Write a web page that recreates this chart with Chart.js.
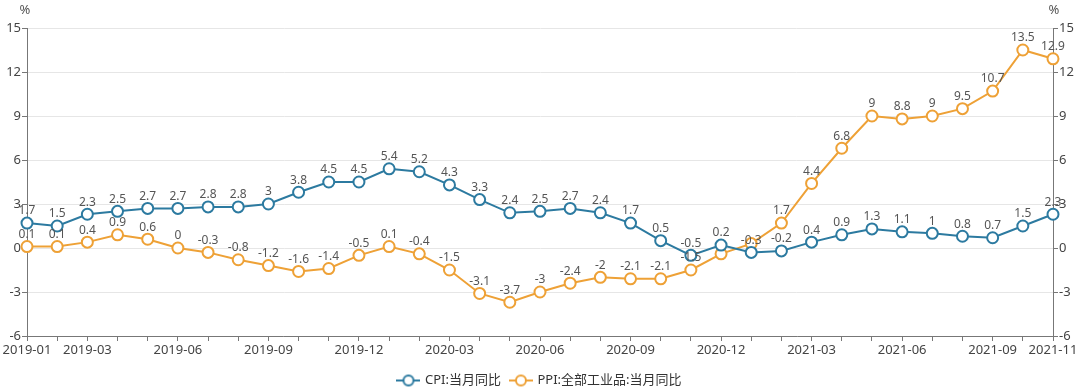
<!DOCTYPE html>
<html>
<head>
<meta charset="utf-8">
<script src="https://cdn.jsdelivr.net/npm/chart.js@4"></script>
<style>
  html, body { margin: 0; padding: 0; background: #fff; }
  #wrap { width: 1080px; height: 391px; }
</style>
</head>
<body>
<div id="wrap"><canvas id="graph" width="1080" height="391"></canvas></div>
<script>
const months = [
  "2019-01","2019-02","2019-03","2019-04","2019-05","2019-06","2019-07","2019-08","2019-09","2019-10","2019-11","2019-12",
  "2020-01","2020-02","2020-03","2020-04","2020-05","2020-06","2020-07","2020-08","2020-09","2020-10","2020-11","2020-12",
  "2021-01","2021-02","2021-03","2021-04","2021-05","2021-06","2021-07","2021-08","2021-09","2021-10","2021-11"
];
const cpi = [1.7, 1.5, 2.3, 2.5, 2.7, 2.7, 2.8, 2.8, 3, 3.8, 4.5, 4.5,
             5.4, 5.2, 4.3, 3.3, 2.4, 2.5, 2.7, 2.4, 1.7, 0.5, -0.5, 0.2,
             -0.3, -0.2, 0.4, 0.9, 1.3, 1.1, 1, 0.8, 0.7, 1.5, 2.3];
const ppi = [0.1, 0.1, 0.4, 0.9, 0.6, 0, -0.3, -0.8, -1.2, -1.6, -1.4, -0.5,
             0.1, -0.4, -1.5, -3.1, -3.7, -3, -2.4, -2, -2.1, -2.1, -1.5, -0.4,
             0.3, 1.7, 4.4, 6.8, 9, 8.8, 9, 9.5, 10.7, 13.5, 12.9];
const shownTicks = ["2019-01","2019-03","2019-06","2019-09","2019-12","2020-03","2020-06","2020-09","2020-12","2021-03","2021-06","2021-09","2021-11"];
// labels the reference hides because they overlap (series index -> point indexes)
const hiddenLabels = { 1: [23, 24] };

const cpiColor = "#2c7aa0";
const ppiColor = "#eea136";
const font = "'Noto Sans', 'Noto Sans CJK SC', sans-serif";

function legendIcon(color) {
  const c = document.createElement("canvas");
  c.width = 24; c.height = 14;
  const g = c.getContext("2d");
  g.strokeStyle = color; g.lineWidth = 2;
  g.beginPath(); g.moveTo(0, 7); g.lineTo(24, 7); g.stroke();
  g.beginPath(); g.arc(12, 7, 5, 0, Math.PI * 2);
  g.fillStyle = "#fff"; g.fill(); g.stroke();
  return c;
}

const valueLabels = {
  id: "valueLabels",
  afterDatasetsDraw(chart) {
    const ctx = chart.ctx;
    ctx.save();
    ctx.font = "12px " + font;
    ctx.fillStyle = "#555";
    ctx.textAlign = "center";
    ctx.textBaseline = "bottom";
    chart.data.datasets.forEach((ds, di) => {
      const meta = chart.getDatasetMeta(di);
      const skip = hiddenLabels[di] || [];
      meta.data.forEach((pt, i) => {
        if (skip.includes(i)) return;
        ctx.fillText(String(ds.data[i]), pt.x, pt.y - 6);
      });
    });
    ctx.restore();
  }
};

const unitLabels = {
  id: "unitLabels",
  afterDraw(chart) {
    const ctx = chart.ctx;
    const a = chart.chartArea;
    ctx.save();
    ctx.font = "13px " + font;
    ctx.fillStyle = "#555";
    ctx.textAlign = "center";
    ctx.textBaseline = "middle";
    ctx.fillText("%", a.left - 2, 10);
    ctx.fillText("%", a.right + 1, 10);
    ctx.restore();
  }
};

const ctx = document.getElementById("graph").getContext("2d");
new Chart(ctx, {
  type: "line",
  data: {
    labels: months,
    datasets: [
      {
        label: "CPI:当月同比",
        data: cpi,
        borderColor: cpiColor,
        backgroundColor: "#fff",
        borderWidth: 2,
        pointRadius: 5.5,
        pointBorderWidth: 2,
        pointBackgroundColor: "#fff",
        pointBorderColor: cpiColor,
        tension: 0,
        clip: false,
        yAxisID: "y"
      },
      {
        label: "PPI:全部工业品:当月同比",
        data: ppi,
        borderColor: ppiColor,
        backgroundColor: "#fff",
        borderWidth: 2,
        pointRadius: 5.5,
        pointBorderWidth: 2,
        pointBackgroundColor: "#fff",
        pointBorderColor: ppiColor,
        tension: 0,
        clip: false,
        yAxisID: "y"
      }
    ]
  },
  options: {
    responsive: false,
    animation: false,
    layout: { padding: { top: 28, bottom: 0, left: 0, right: 0 } },
    scales: {
      x: {
        offset: false,
        border: { display: true, color: "#777", width: 1 },
        grid: { drawOnChartArea: false, drawTicks: true, tickLength: 5, color: "#777" },
        ticks: {
          autoSkip: false,
          maxRotation: 0,
          padding: 1,
          color: "#444",
          font: { family: font, size: 13 },
          callback: function (v) {
            const l = this.getLabelForValue(v);
            return shownTicks.includes(l) ? l : "";
          }
        },
        afterFit(s) { s.height = 28; }
      },
      y: {
        position: "left",
        min: -6, max: 15,
        border: { display: true, color: "#777", width: 1 },
        grid: { color: "#e6e6e6", tickColor: "#777", tickLength: 5 },
        ticks: { stepSize: 3, padding: 1, color: "#444", font: { family: font, size: 13 } },
        afterFit(s) { s.width = 27; }
      },
      y2: {
        position: "right",
        min: -6, max: 15,
        border: { display: true, color: "#777", width: 1 },
        grid: { drawOnChartArea: false, tickColor: "#777", tickLength: 5 },
        ticks: { stepSize: 3, padding: 1, color: "#444", font: { family: font, size: 13 } },
        afterFit(s) { s.width = 27; }
      }
    },
    plugins: {
      tooltip: { enabled: false },
      legend: {
        position: "bottom",
        maxHeight: 27,
        labels: {
          usePointStyle: true,
          pointStyleWidth: 20,
          padding: 10,
          color: "#333",
          font: { family: font, size: 13 },
          generateLabels(chart) {
            return chart.data.datasets.map((ds, i) => ({
              text: ds.label,
              pointStyle: legendIcon(ds.borderColor),
              fontColor: "#333",
              datasetIndex: i,
              hidden: false,
              lineWidth: 0,
              strokeStyle: "transparent",
              fillStyle: "transparent"
            }));
          }
        }
      }
    }
  },
  plugins: [valueLabels, unitLabels]
});
</script>
</body>
</html>
